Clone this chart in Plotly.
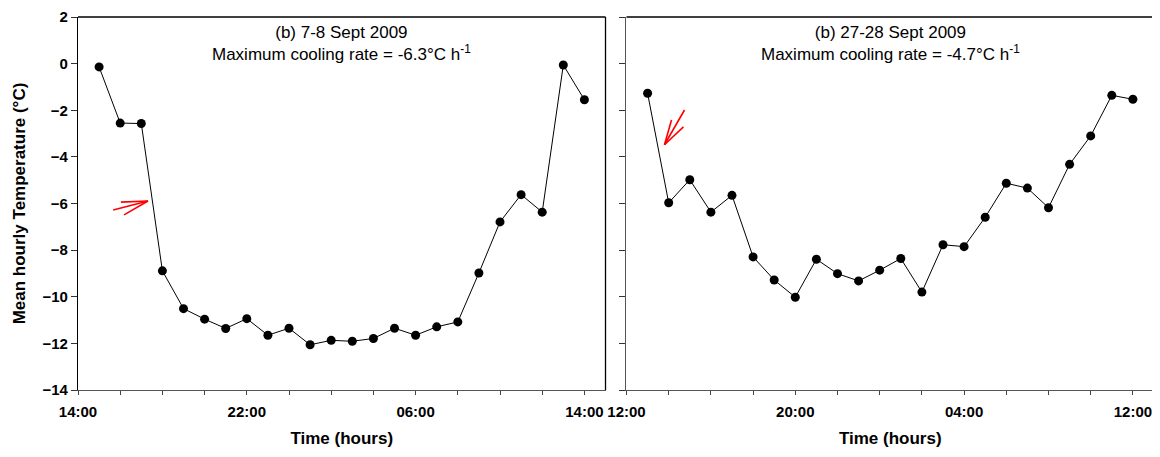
# %%
import plotly.graph_objects as go
from plotly.subplots import make_subplots

# %% Data: hourly means read from the two nights
sept7_times = [
    "2009-09-07 15:00", "2009-09-07 16:00", "2009-09-07 17:00", "2009-09-07 18:00",
    "2009-09-07 19:00", "2009-09-07 20:00", "2009-09-07 21:00", "2009-09-07 22:00",
    "2009-09-07 23:00", "2009-09-08 00:00", "2009-09-08 01:00", "2009-09-08 02:00",
    "2009-09-08 03:00", "2009-09-08 04:00", "2009-09-08 05:00", "2009-09-08 06:00",
    "2009-09-08 07:00", "2009-09-08 08:00", "2009-09-08 09:00", "2009-09-08 10:00",
    "2009-09-08 11:00", "2009-09-08 12:00", "2009-09-08 13:00", "2009-09-08 14:00",
]
sept7_temp = [
    -0.14, -2.55, -2.57, -8.89, -10.51, -10.96, -11.36, -10.94,
    -11.65, -11.35, -12.06, -11.87, -11.91, -11.79, -11.35, -11.65,
    -11.29, -11.08, -8.98, -6.79, -5.62, -6.37, -0.06, -1.55,
]

sept27_times = [
    "2009-09-27 13:00", "2009-09-27 14:00", "2009-09-27 15:00", "2009-09-27 16:00",
    "2009-09-27 17:00", "2009-09-27 18:00", "2009-09-27 19:00", "2009-09-27 20:00",
    "2009-09-27 21:00", "2009-09-27 22:00", "2009-09-27 23:00", "2009-09-28 00:00",
    "2009-09-28 01:00", "2009-09-28 02:00", "2009-09-28 03:00", "2009-09-28 04:00",
    "2009-09-28 05:00", "2009-09-28 06:00", "2009-09-28 07:00", "2009-09-28 08:00",
    "2009-09-28 09:00", "2009-09-28 10:00", "2009-09-28 11:00", "2009-09-28 12:00",
]
sept27_temp = [
    -1.27, -5.97, -4.98, -6.37, -5.65, -8.29, -9.28, -10.02,
    -8.39, -9.01, -9.32, -8.86, -8.36, -9.80, -7.77, -7.85,
    -6.59, -5.13, -5.34, -6.18, -4.32, -3.10, -1.36, -1.53,
]

panel_titles = [
    "(b) 7-8 Sept 2009<br>Maximum cooling rate = -6.3°C h<sup>-1</sup>",
    "(b) 27-28 Sept 2009<br>Maximum cooling rate = -4.7°C h<sup>-1</sup>",
]
x_ranges = [
    ["2009-09-07 14:00", "2009-09-08 15:00"],
    ["2009-09-27 12:00", "2009-09-28 13:00"],
]
x_ticks = [
    ["2009-09-07 14:00", "2009-09-07 22:00", "2009-09-08 06:00", "2009-09-08 14:00"],
    ["2009-09-27 12:00", "2009-09-27 20:00", "2009-09-28 04:00", "2009-09-28 12:00"],
]
y_ticks = [2, 0, -2, -4, -6, -8, -10, -12, -14]

# red hand-drawn arrows marking the steepest drop: (tip, shaft end, barb, barb)
arrow_left = [("2009-09-07 17:19", -5.89), ("2009-09-07 15:40", -6.28),
              ("2009-09-07 16:02", -5.94), ("2009-09-07 16:11", -6.49)]
arrow_right = [("2009-09-27 13:48", -3.48), ("2009-09-27 14:45", -1.99),
               ("2009-09-27 14:08", -2.42), ("2009-09-27 14:42", -2.71)]

# %% Figure
font_main = "Liberation Sans"
fig = make_subplots(rows=1, cols=2, horizontal_spacing=0.0195)

for col, (t, v) in enumerate([(sept7_times, sept7_temp), (sept27_times, sept27_temp)], start=1):
    fig.add_trace(go.Scatter(
        x=t, y=v, mode="lines+markers",
        line=dict(color="black", width=1),
        marker=dict(color="black", size=9),
        showlegend=False,
    ), row=1, col=col)

for col in (1, 2):
    fig.update_xaxes(
        type="date", range=x_ranges[col - 1], automargin=False,
        tickvals=x_ticks[col - 1], tickformat="%H:%M",
        ticks="outside", ticklen=4, tickcolor="#444", tickwidth=1,
        minor=dict(dtick=2 * 3600 * 1000, ticks="outside", ticklen=4, tickcolor="#444"),
        showline=True, linecolor="#555", linewidth=1.3,
        showgrid=False, zeroline=False, ticklabeloverflow="allow",
        tickfont=dict(family=font_main, size=15, color="black", weight="bold"),
        ticklabelstandoff=4,
        title=dict(text="<b>Time (hours)</b>", standoff=12,
                   font=dict(family=font_main, size=17, color="black")),
        row=1, col=col,
    )
    fig.update_yaxes(
        range=[-14, 2], tickvals=y_ticks, automargin=False,
        ticks="outside", ticklen=6, tickcolor="#333", tickwidth=1,
        showline=True, linecolor="black" if col == 1 else "#555", linewidth=1.3,
        showgrid=False, zeroline=False, showticklabels=(col == 1),
        ticklabeloverflow="allow",
        tickfont=dict(family=font_main, size=15, color="black", weight="bold"),
        row=1, col=col,
    )

fig.update_yaxes(
    title=dict(text="<b>Mean hourly Temperature (°C)</b>", standoff=12,
               font=dict(family=font_main, size=17, color="black")),
    row=1, col=1,
)

# top and right frame lines
for xa, ya in (("x", "y"), ("x2", "y2")):
    fig.add_shape(type="line", xref=f"{xa} domain", yref=f"{ya} domain",
                  x0=0, x1=1, y0=1, y1=1, line=dict(color="black", width=1.3))
    fig.add_shape(type="line", xref=f"{xa} domain", yref=f"{ya} domain",
                  x0=1, x1=1, y0=0, y1=1, line=dict(color="black", width=1.3))

# panel titles
for i, (xa, ya) in enumerate((("x", "y"), ("x2", "y2"))):
    fig.add_annotation(
        text=panel_titles[i], xref=f"{xa} domain", yref=f"{ya} domain",
        x=0.5, y=1, yshift=-4, xanchor="center", yanchor="top", showarrow=False,
        font=dict(family=font_main, size=17, color="black"),
    )

# arrows
for arrow, xa, ya in ((arrow_left, "x", "y"), (arrow_right, "x2", "y2")):
    tip = arrow[0]
    for end in arrow[1:]:
        fig.add_shape(type="line", xref=xa, yref=ya,
                      x0=tip[0], y0=tip[1], x1=end[0], y1=end[1],
                      line=dict(color="red", width=1.6))

# the page adds an 8px body margin, so the margins are offset by it
fig.update_layout(
    width=1160, height=457,
    margin=dict(l=70, r=14, t=9, b=75),
    plot_bgcolor="white", paper_bgcolor="white",
    font=dict(family=font_main, color="black"),
)

fig.write_html("out.html")
